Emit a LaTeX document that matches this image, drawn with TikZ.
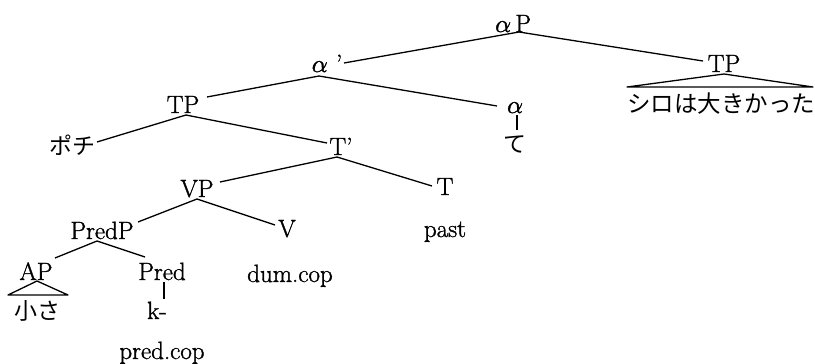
\documentclass[tikz,border=0pt]{standalone}
\usepackage{fontspec}
\setmainfont{Latin Modern Roman}[FakeBold=1.2]
\newfontfamily\jp{Noto Sans CJK JP}
\newfontfamily\grk{Latin Modern Math}[FakeBold=1.2]
\newcommand\alp{{\grk 𝛼}}
\begin{document}
\begin{tikzpicture}[x=1pt,y=-1pt,
  lab/.style={inner sep=0pt, anchor=base, font=\fontsize{25}{30}\selectfont},
  jlab/.style={inner sep=0pt, anchor=center, font=\jp\fontsize{23}{28}\selectfont},
  edge/.style={line width=1.3pt, line join=round}]
\useasboundingbox (0,0) rectangle (815,364);
% nodes
\node[lab] (aP) at (513,32) {\alp\,P};
\node[lab] (abar) at (327,72) {\alp\,\,’};
\node[lab] (TP2) at (724,72) {TP};
\node[jlab, font=\jp\fontsize{23.5}{28}\selectfont] (shiro) at (721,104) {シロは大きかった};
\node[lab] (TP1) at (183,113) {TP};
\node[lab] (alpha) at (515,113) {\alp};
\node[jlab] (te) at (515,144) {て};
\node[jlab] (pochi) at (72,145) {ポチ};
\node[lab] (Tbar) at (341,155) {T’};
\node[lab] (T) at (445,195) {T};
\node[lab] (past) at (445,237) {past};
\node[lab] (VP) at (197,197) {VP};
\node[lab] (V) at (287,237) {V};
\node[lab] (dum) at (290,282) {dum.cop};
\node[lab] (PredP) at (102,239) {PredP};
\node[lab] (AP) at (36,280) {AP};
\node[jlab] (sa) at (37,311) {小さ};
\node[lab] (Pred) at (162,280) {Pred};
\node[lab] (k) at (157,319) {k-};
\node[lab] (predcop) at (162,359) {pred.cop};
% attachment points
\coordinate (aP-b) at (519,32);
\coordinate (abar-t) at (344,63);
\coordinate (abar-b) at (319,76);
\coordinate (TP2-t) at (703,61);
\coordinate (TP2-b) at (724,74);
\coordinate (tri2-l) at (627,87);
\coordinate (tri2-r) at (813,87);
\coordinate (TP1-t) at (207,97);
\coordinate (TP1-b) at (186,115);
\coordinate (alpha-t) at (497,106);
\coordinate (alpha-b) at (517,115);
\coordinate (te-t) at (517,130);
\coordinate (pochi-t) at (97,142);
\coordinate (Tbar-t) at (327,143);
\coordinate (Tbar-b) at (337,157);
\coordinate (T-t) at (432,186);
\coordinate (VP-t) at (220,182);
\coordinate (VP-b) at (197,199);
\coordinate (V-t) at (275,225);
\coordinate (PredP-t) at (138,222);
\coordinate (PredP-b) at (97,241);
\coordinate (AP-t) at (55,258);
\coordinate (AP-b) at (37,281);
\coordinate (tri1-l) at (8,295);
\coordinate (tri1-r) at (68,295);
\coordinate (Pred-t) at (145,257);
\coordinate (Pred-b) at (164,282);
\coordinate (k-t) at (164,299);
% connectors
\draw[edge] (aP-b) -- (abar-t);
\draw[edge] (aP-b) -- (TP2-t);
\draw[edge] (TP2-b) -- (tri2-r) -- (tri2-l) -- cycle;
\draw[edge] (abar-b) -- (TP1-t);
\draw[edge] (abar-b) -- (alpha-t);
\draw[edge] (alpha-b) -- (te-t);
\draw[edge] (TP1-b) -- (pochi-t);
\draw[edge] (TP1-b) -- (Tbar-t);
\draw[edge] (Tbar-b) -- (VP-t);
\draw[edge] (Tbar-b) -- (T-t);
\draw[edge] (VP-b) -- (PredP-t);
\draw[edge] (VP-b) -- (V-t);
\draw[edge] (PredP-b) -- (AP-t);
\draw[edge] (PredP-b) -- (Pred-t);
\draw[edge] (AP-b) -- (tri1-r) -- (tri1-l) -- cycle;
\draw[edge] (Pred-b) -- (k-t);
\end{tikzpicture}
\end{document}
